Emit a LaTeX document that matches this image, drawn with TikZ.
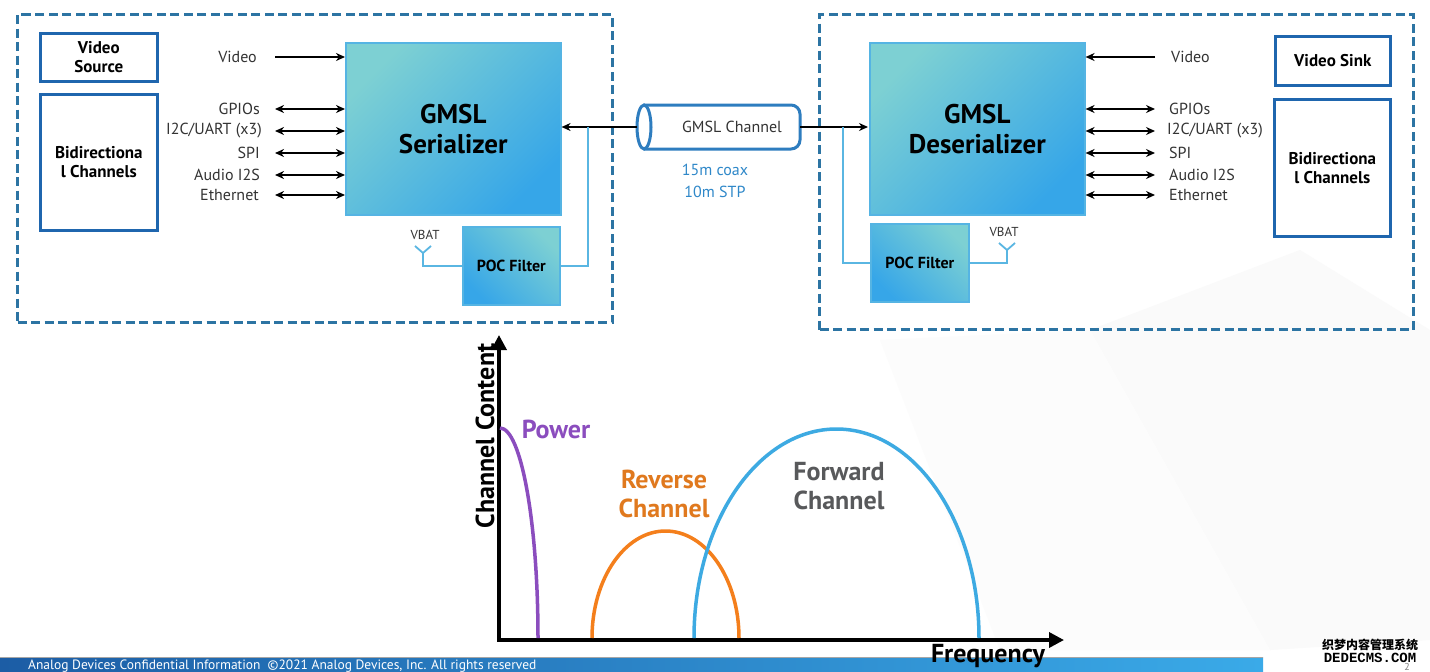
\documentclass[tikz,border=0pt]{standalone}
\usepackage{fontspec}
\setmainfont{PT Sans}
\newfontfamily\cjk{Noto Sans CJK SC}
\newfontfamily\wmmono{Liberation Mono}
\usetikzlibrary{arrows.meta,calc}
\definecolor{dashc}{HTML}{2C74A3}
\definecolor{boxb}{HTML}{1F66AE}
\definecolor{tealc}{HTML}{7DD0D3}
\definecolor{bluec}{HTML}{36A6E8}
\definecolor{edgec}{HTML}{55B4E3}
\definecolor{wirec}{HTML}{5AB6E2}
\definecolor{cablec}{HTML}{2E7DBF}
\definecolor{stpc}{HTML}{2F88C9}
\definecolor{powc}{HTML}{8B4DBE}
\definecolor{revc}{HTML}{F47F1C}
\definecolor{revt}{HTML}{E0791E}
\definecolor{fwdc}{HTML}{3DAAE2}
\definecolor{fwdt}{HTML}{58595B}
\definecolor{lblc}{HTML}{333333}
\definecolor{barl}{HTML}{1C5DA5}
\definecolor{barr}{HTML}{3AAAE8}
\begin{document}
\begin{tikzpicture}[x=1pt,y=-1pt,
  frame/.style={draw=dashc, line width=3pt, dash pattern=on 9pt off 4.5pt, inner sep=0, anchor=north west},
  srcbox/.style={draw=boxb, line width=2.6pt, fill=white, inner sep=0, anchor=north west, align=center, font=\bfseries\fontsize{17}{19}\selectfont},
  chip/.style={draw=edgec, line width=1.6pt, top color=tealc, bottom color=bluec, shading angle=45, inner sep=0, anchor=north west, align=center, font=\bfseries\fontsize{27}{30}\selectfont},
  poc/.style={chip, shading angle=-45, font=\bfseries\fontsize{16}{19}\selectfont},
  lbl/.style={font=\fontsize{16}{19}\selectfont, text=lblc, inner sep=0},
  vbat/.style={font=\fontsize{13}{15}\selectfont, text=lblc, inner sep=0},
  sig/.style={line width=1.8pt, -{Stealth[length=9pt,width=8pt]}},
  bi/.style={line width=1.8pt, {Stealth[length=9pt,width=8pt]}-{Stealth[length=9pt,width=8pt]}},
  wire/.style={draw=wirec, line width=1.8pt},
  axis/.style={line width=3.5pt, {Triangle[length=15pt,width=15pt]}-{Triangle[length=15pt,width=15pt]}},
  curve/.style={line width=3.5pt},
  gtext/.style={font=\bfseries\fontsize{26}{29}\selectfont, align=center, inner sep=0}
]
\useasboundingbox (0,0) rectangle (1430,672);
\fill[white] (0,0) rectangle (1430,672);
% faint background facets
\fill[black!2] (1090,330) -- (1300,250) -- (1430,330) -- (1430,640) -- (1270,650) -- cycle;
\fill[black!1.2] (880,340) -- (1090,330) -- (1270,650) -- (1000,650) -- cycle;

% frames
\node[frame, minimum width=595, minimum height=308] (fl) at (16,13) {};
\node[frame, minimum width=594, minimum height=315] (fr) at (818,13) {};

% left side
\node[srcbox, minimum width=117, minimum height=48] (vsrc) at (39,32) {Video\\Source};
\node[srcbox, minimum width=117, minimum height=136] (bdl) at (39,93) {Bidirectiona\\l Channels};
\node[chip, minimum width=215, minimum height=172] (ser) at (345,42) {GMSL\\Serializer};
\node[poc, minimum width=97, minimum height=78] (pocl) at (462,226) {POC Filter};

\node[lbl, anchor=east] (lv) at (257,57) {Video};
\node[lbl, anchor=east] (lg) at (260,109) {GPIOs};
\node[lbl, anchor=east] (li) at (262,131) {I2C/UART (x3)};
\node[lbl, anchor=east] (ls) at (260,153) {SPI};
\node[lbl, anchor=east] (la) at (260,175) {Audio I2S};
\node[lbl, anchor=east] (le) at (259,195) {Ethernet};
\draw[sig, shorten <=18pt] (lv.east) -- (ser.west |- lv.east);
\draw[bi, shorten <=15pt] (lg.east) -- (ser.west |- lg.east);
\draw[bi, shorten <=13pt] (li.east) -- (ser.west |- li.east);
\draw[bi, shorten <=15pt] (ls.east) -- (ser.west |- ls.east);
\draw[bi, shorten <=15pt] (la.east) -- (ser.west |- la.east);
\draw[bi, shorten <=16pt] (le.east) -- (ser.west |- le.east);

\node[vbat] (vbl) at (425,235) {VBAT};
\coordinate (vyl) at (423,253);
\draw[wire] (pocl.west) -| (vyl);
\draw[wire] (vyl) ++(-8,-7) -- (vyl) -- ++(8,-7);

% cable
\node[minimum width=163, minimum height=44, inner sep=0] (cab) at (718.5,127) {};
\draw[cablec, line width=3pt, rounded corners=9pt, fill=white] (644,105) -- (800,105) -- (800,149) -- (644,149);
\draw[cablec, line width=3pt, fill=white] (644,127) ellipse [x radius=7, y radius=22];
\node[lbl] (cabt) at (732,127) {GMSL Channel};
\node[font=\fontsize{16}{22}\selectfont, text=stpc, align=center, inner sep=0] (len) at (715,181) {15m coax\\10m STP};
\coordinate (jl) at (588,127);
\coordinate (jr) at (843,127);
\draw[sig] (cab.west) -- (ser.east |- cab.west);
\draw[sig] (cab.east) -- (868,127);
\draw[wire] (pocl.east) -| (jl);

% right side
\node[chip, minimum width=215, minimum height=172] (des) at (869,42) {GMSL\\Deserializer};
\node[poc, minimum width=98, minimum height=78] (pocr) at (870,223) {POC Filter};
\node[srcbox, minimum width=115, minimum height=49] (vsnk) at (1274,35) {Video Sink};
\node[srcbox, minimum width=116, minimum height=137] (bdr) at (1273,98) {Bidirectiona\\l Channels};
\draw[wire] (jr) |- (pocr.west);
\node[vbat] (vbr) at (1004,232) {VBAT};
\coordinate (vyr) at (1007,250);
\draw[wire] (pocr.east) -| (vyr);
\draw[wire] (vyr) ++(-8,-7) -- (vyr) -- ++(8,-7);

\node[lbl, anchor=west] (rv) at (1171,57) {Video};
\node[lbl, anchor=west] (rg) at (1169,109) {GPIOs};
\node[lbl, anchor=west] (ri) at (1167,131) {I2C/UART (x3)};
\node[lbl, anchor=west] (rs) at (1169,153) {SPI};
\node[lbl, anchor=west] (ra) at (1169,175) {Audio I2S};
\node[lbl, anchor=west] (re) at (1169,195) {Ethernet};
\draw[sig, shorten <=16pt] (rv.west) -- (des.east |- rv.west);
\draw[bi, shorten >=14pt] (des.east |- rg.west) -- (rg.west);
\draw[bi, shorten >=12pt] (des.east |- ri.west) -- (ri.west);
\draw[bi, shorten >=14pt] (des.east |- rs.west) -- (rs.west);
\draw[bi, shorten >=14pt] (des.east |- ra.west) -- (ra.west);
\draw[bi, shorten >=14pt] (des.east |- re.west) -- (re.west);

% footer bar
\shade[left color=barl, right color=barr] (0,657) rectangle (1263,672);
\draw[black!35, line width=1pt] (0,657) -- (1263,657);
\node[font=\fontsize{13.5}{15}\selectfont, text=white, anchor=base west, inner sep=0] (foot) at (28,669.5) {Analog Devices Confidential Information\ \ ©2021 Analog Devices, Inc. All rights reserved};

% graph
\coordinate (org) at (499,640);
\coordinate (ytop) at (499,335);
\coordinate (xend) at (1064,640);
\draw[axis] (ytop) -- (org) -- (xend);
\node[gtext, rotate=90] (ylab) at (485,436) {Channel Content};
\node[gtext] (xlab) at (988,656) {Frequency};
\draw[curve, powc] (500,428) arc[start angle=-90, end angle=0, x radius=38, y radius=210];
\draw[curve, revc] (592,638) arc[start angle=180, end angle=360, x radius=73.5, y radius=107];
\draw[curve, fwdc] (694,638) arc[start angle=180, end angle=360, x radius=142.5, y radius=209];
\node[gtext, text=powc] (powt) at (556,429) {Power};
\node[gtext, text=revt] (revtx) at (664,494) {Reverse\\Channel};
\node[gtext, text=fwdt] (fwdtx) at (839,486) {Forward\\Channel};

% watermark
\node[font=\cjk\bfseries\fontsize{12}{12}\selectfont, inner sep=0] (wm1) at (1370,645) {织梦内容管理系统};
\node[font=\wmmono\bfseries\fontsize{14}{14}\selectfont, inner sep=0] (wm2) at (1370,658) {DEDECMS.COM};
\node[font=\fontsize{10}{11}\selectfont, text=black!50, inner sep=0] (pg) at (1407,667) {2};
\end{tikzpicture}
\end{document}
